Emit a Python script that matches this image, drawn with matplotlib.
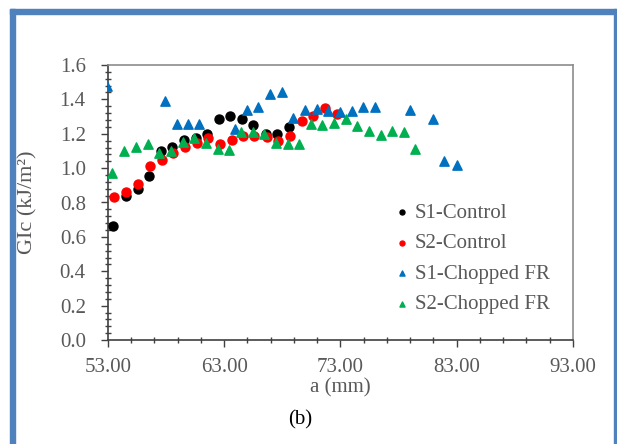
import matplotlib
matplotlib.use("Agg")
import numpy as np
import matplotlib.pyplot as plt
from matplotlib.patches import Rectangle
from matplotlib.ticker import MultipleLocator, FormatStrFormatter

# S1-Control
s1_ctrl_a = [53.46, 54.52, 55.55, 56.55, 57.53, 58.53, 59.54, 60.54, 61.54, 62.55,
             63.52, 64.53, 65.50, 66.57, 67.56, 68.57]
s1_ctrl_g = [0.663, 0.84, 0.876, 0.956, 1.10, 1.12, 1.163, 1.177, 1.20, 1.288,
             1.303, 1.288, 1.248, 1.198, 1.198, 1.241]

# S2-Control
s2_ctrl_a = [53.54, 54.55, 55.55, 56.61, 57.62, 58.62, 59.62, 60.63, 61.63, 62.63,
             63.64, 64.64, 65.58, 66.65, 67.65, 68.66, 69.66, 70.66, 71.67, 72.66]
s2_ctrl_g = [0.832, 0.863, 0.907, 1.012, 1.05, 1.09, 1.12, 1.148, 1.177, 1.14,
             1.163, 1.187, 1.187, 1.183, 1.158, 1.187, 1.274, 1.303, 1.351, 1.313]

# S1-Chopped FR
s1_fr_a = [52.89, 57.90, 58.91, 59.85, 60.85, 63.92, 64.93, 65.93, 66.94, 67.94,
           68.94, 69.95, 70.95, 71.95, 72.96, 73.97, 74.96, 75.97, 78.98, 80.98,
           81.93, 82.99]
s1_fr_g = [1.478, 1.39, 1.257, 1.257, 1.257, 1.23, 1.34, 1.353, 1.43, 1.44,
           1.29, 1.338, 1.344, 1.334, 1.324, 1.334, 1.353, 1.353, 1.338, 1.286,
           1.04, 1.02]

# S2-Chopped FR
s2_fr_a = [53.37, 54.38, 55.38, 56.42, 57.41, 58.42, 59.43, 60.42, 61.43, 62.43,
           63.43, 64.44, 65.44, 66.44, 67.45, 68.51, 69.45, 70.46, 71.43, 72.44,
           73.44, 74.44, 75.45, 76.45, 77.45, 78.45, 79.43]
s2_fr_g = [0.97, 1.10, 1.12, 1.14, 1.09, 1.10, 1.152, 1.173, 1.144, 1.11,
           1.105, 1.21, 1.21, 1.198, 1.144, 1.14, 1.14, 1.255, 1.248, 1.26,
           1.286, 1.245, 1.216, 1.19, 1.218, 1.208, 1.11]

x_major = [53, 63, 73, 83, 93]

plt.rcParams['font.family'] = ['Liberation Serif', 'DejaVu Serif']

W, H = 617, 444
fig = plt.figure(figsize=(W / 100, H / 100), dpi=100)

# blue frame around the figure
frame_col = '#4f81bd'
fig.patches.append(Rectangle((10 / W, 0), 5 / W, (H - 9) / H, transform=fig.transFigure,
                             color=frame_col, zorder=0))
fig.patches.append(Rectangle((10 / W, (H - 14) / H), (W - 10) / W, 5 / H, transform=fig.transFigure,
                             color=frame_col, zorder=0))
fig.patches.append(Rectangle((614 / W, 0), 2 / W, (H - 9) / H, transform=fig.transFigure,
                             color=frame_col, zorder=0))

ax = fig.add_axes([108 / W, (H - 340) / H, 465 / W, 275 / H])

ax.scatter(s1_ctrl_a, s1_ctrl_g, s=42, c='black', marker='o', label='S1-Control', zorder=3)
ax.scatter(s2_ctrl_a, s2_ctrl_g, s=42, c='#ff0000', marker='o', label='S2-Control', zorder=3)
ax.scatter(s1_fr_a, s1_fr_g, s=45, c='#0070c0', marker='^', label='S1-Chopped FR', zorder=3)
ax.scatter(s2_fr_a, s2_fr_g, s=45, c='#00b050', marker='^', label='S2-Chopped FR', zorder=3)

ax.set_xlim(53, 93)
ax.set_ylim(0, 1.6)
ax.set_xticks(x_major)
ax.set_xticks(np.arange(55, 93, 2), minor=True)
ax.xaxis.set_major_formatter(FormatStrFormatter('%.2f'))
ax.yaxis.set_major_locator(MultipleLocator(0.2))
ax.yaxis.set_minor_locator(MultipleLocator(0.04))
ax.yaxis.set_major_formatter(FormatStrFormatter('%.1f'))

ax.tick_params(which='major', direction='out', length=5, width=1, color='#404040',
               labelsize=15, labelcolor='#595959')
ax.tick_params(which='minor', direction='inout', length=5, width=1, color='#404040')
ax.tick_params(axis='y', pad=11)
ax.tick_params(axis='x', pad=8)
for side in ['left', 'bottom']:
    ax.spines[side].set_color('#404040')
    ax.spines[side].set_linewidth(1.2)
for side in ['top', 'right']:
    ax.spines[side].set_color('#8c8c8c')
    ax.spines[side].set_linewidth(1.2)

ax.set_xlabel('a (mm)', fontsize=15, color='#595959', va='center')
ax.xaxis.set_label_coords(0.5, (340 - 388) / 275)
ax.set_ylabel('GIc (kJ/m²)', fontsize=16, color='#595959', va='center')
ax.yaxis.set_label_coords((28 - 108) / 465, 0.5)

ax.legend(loc='upper left', bbox_to_anchor=(0.57, 0.565), frameon=False, fontsize=15,
          markerscale=0.55, handletextpad=0.1, labelspacing=0.52, handlelength=1.0,
          labelcolor='#595959')

fig.text(300 / W, 1 - 420 / H, '(b)', fontsize=15, color='black', ha='center', va='center')

fig.savefig('out.png', dpi=100)
